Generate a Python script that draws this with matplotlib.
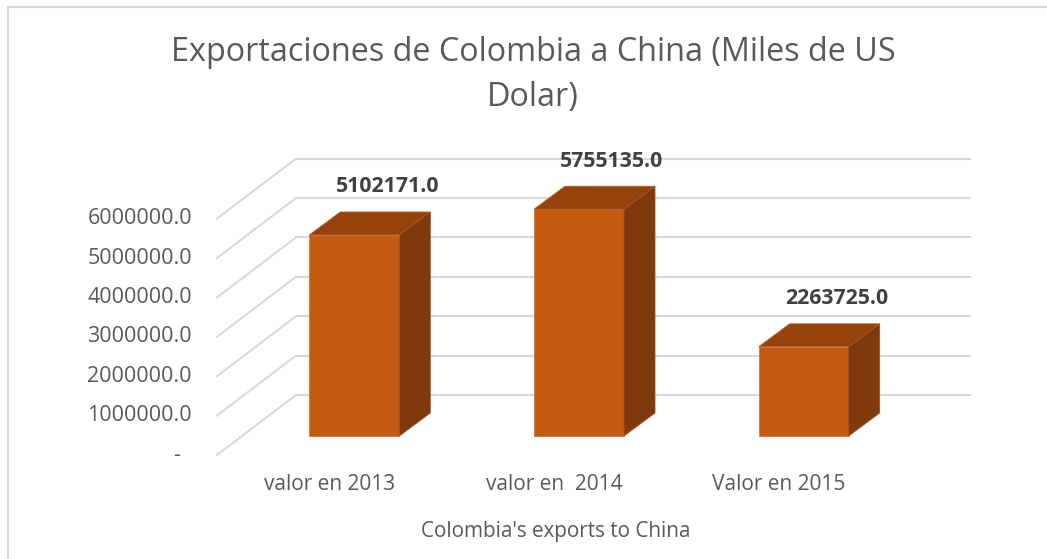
import matplotlib
matplotlib.use("Agg")
import matplotlib.pyplot as plt
from matplotlib.patches import Polygon, Rectangle
from matplotlib.lines import Line2D

# ---- data ----
categories = ["valor en 2013", "valor en  2014", "Valor en 2015"]
values = [5102171.0, 5755135.0, 2263725.0]
ticks = [0, 1000000, 2000000, 3000000, 4000000, 5000000, 6000000]
tick_labels = ["-", "1000000.0", "2000000.0", "3000000.0", "4000000.0", "5000000.0", "6000000.0"]
title = "Exportaciones de Colombia a China (Miles de US\nDolar)"
xlabel = "Colombia's exports to China"

FONT = "Open Sans"
W, H = 1047, 559
fig = plt.figure(figsize=(W / 100, H / 100), dpi=100)
fig.patch.set_facecolor("white")

# axes = front plane of the bars
ax_l, ax_b, ax_w, ax_h = 242, 123, 674, 236.4
ax = fig.add_axes([ax_l / W, ax_b / H, ax_w / W, ax_h / H])
ax.set_xlim(-0.5, len(categories) - 0.5)
ax.set_ylim(0, 6e6)
ax.axis("off")

ppx = ax_w / (len(categories))        # pixels per category unit
ppy = ax_h / 6e6                      # pixels per value unit

def px(dx, dy):
    return dx / ppx, dy / ppy

back = px(54, 41)       # back wall offset
front = px(-25, -19)    # front edge offset
depth = px(31, 23)      # bar depth

grid_c = "#d9d9d9"
x_left = -0.5
x_right = len(categories) - 0.5
for t in ticks:
    ax.add_line(Line2D([x_left + back[0], x_right + back[0]], [t + back[1], t + back[1]],
                       color=grid_c, lw=1.5, clip_on=False, zorder=1))
    ax.add_line(Line2D([x_left + front[0], x_left + back[0]], [t + front[1], t + back[1]],
                       color=grid_c, lw=1.5, clip_on=False, zorder=1))

bw = 90 / ppx
c_front, c_top, c_side = "#C55A11", "#96420D", "#7F390B"
for i, v in enumerate(values):
    x0, x1 = i - bw / 2, i + bw / 2
    ax.add_patch(Rectangle((x0, 0), bw, v, facecolor=c_front, edgecolor="#d07a40",
                           lw=0.6, clip_on=False, zorder=3))
    ax.add_patch(Polygon([(x0, v), (x1, v), (x1 + depth[0], v + depth[1]), (x0 + depth[0], v + depth[1])],
                         closed=True, facecolor=c_top, edgecolor="#b0602a", lw=0.6, clip_on=False, zorder=3))
    ax.add_patch(Polygon([(x1, 0), (x1 + depth[0], depth[1]), (x1 + depth[0], v + depth[1]), (x1, v)],
                         closed=True, facecolor=c_side, edgecolor="#a0562a", lw=0.6, clip_on=False, zorder=3))
    lx, ly = px(33, 48)
    ax.text(i + lx, v + ly, f"{v:.1f}", ha="center", va="center", fontsize=15.3,
            fontweight="bold", color="#404040", family=FONT, clip_on=False, zorder=4)
    cx, cy = px(-25, -49)
    ax.text(i + cx, cy, categories[i], ha="center", va="center", fontsize=15,
            color="#595959", family=FONT, clip_on=False)

for t, lab in zip(ticks, tick_labels):
    if lab == "-":
        dx, dy = px(-65, -19)
        ax.text(x_left + dx, t + dy, lab, ha="center", va="center", fontsize=15.5,
                color="#595959", family=FONT, clip_on=False)
    else:
        dx, dy = px(-50, -19)
        ax.text(x_left + dx, t + dy, lab, ha="right", va="center", fontsize=15.5,
                color="#595959", family=FONT, clip_on=False)

fig.text(556 / W, 1 - 531 / H, xlabel, ha="center", va="center", fontsize=14.9,
         color="#595959", family=FONT)
fig.text(533 / W, 1 - 75 / H, title, ha="center", va="center", fontsize=23.3,
         color="#595959", family=FONT, linespacing=1.45)

# chart border
fig.add_artist(Line2D([8 / W, 8 / W, 1.0], [0.0, 1 - 7 / H, 1 - 7 / H],
                      transform=fig.transFigure, color="#d9d9d9", lw=1.5))

fig.savefig("out.png", dpi=100, facecolor="white")
